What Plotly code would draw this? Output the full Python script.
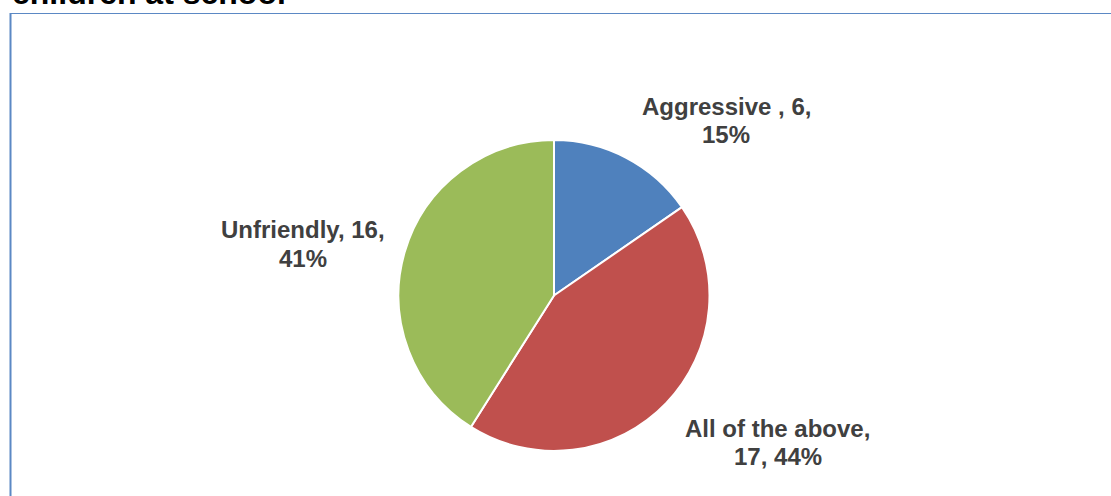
import plotly.graph_objects as go

# Survey responses: how the children are treated at school
categories = ["Aggressive ", "All of the above", "Unfriendly"]
counts = [6, 17, 16]
colors = ["#4F81BD", "#C0504D", "#9BBB59"]
title_text = "children at school"

W, H = 1111, 496


def px_x(x):
    return x / W


def px_y(y):
    return 1 - y / H


total = sum(counts)
pcts = [round(100 * c / total) for c in counts]

fig = go.Figure()
fig.add_trace(go.Pie(
    labels=categories,
    values=counts,
    sort=False,
    direction="clockwise",
    rotation=0,
    marker=dict(colors=colors, line=dict(color="white", width=2)),
    textinfo="none",
    hoverinfo="label+value+percent",
    showlegend=False,
    domain=dict(x=[px_x(398.5), px_x(709.5)], y=[px_y(451), px_y(140)]),
))

# Data label placement: centre x and the y of each of the two lines (pixels)
label_pos = [(726, 107, 134), (777.5, 428.5, 456.5), (302.5, 230, 258)]
break_after_name = [False, True, False]
label_font = dict(family="Liberation Sans, Arial, sans-serif", size=24, color="#404040")

for name, val, pct, (lx, y1, y2), brk in zip(categories, counts, pcts, label_pos, break_after_name):
    if brk:
        lines = [f"{name},", f"{val}, {pct}%"]
    else:
        lines = [f"{name}, {val},", f"{pct}%"]
    for txt, ly in zip(lines, (y1, y2)):
        fig.add_annotation(
            x=px_x(lx), y=px_y(ly), xref="paper", yref="paper",
            xanchor="center", yanchor="middle", showarrow=False,
            text=f"<b>{txt}</b>", font=label_font,
        )

# Chart title (partly above the visible area)
fig.add_annotation(
    x=px_x(10), y=1, xref="paper", yref="paper",
    xanchor="left", yanchor="bottom", yshift=-13, showarrow=False,
    text=f"<b>{title_text}</b>",
    font=dict(family="Liberation Sans, Arial, sans-serif", size=32, color="#000000"),
)

# Chart-area frame
frame_color = "#5B88C4"
fig.add_shape(type="line", xref="paper", yref="paper",
              x0=px_x(10), x1=1.0, y0=px_y(13.5), y1=px_y(13.5),
              line=dict(color=frame_color, width=1.2))
fig.add_shape(type="line", xref="paper", yref="paper",
              x0=px_x(10.5), x1=px_x(10.5), y0=px_y(13), y1=0,
              line=dict(color=frame_color, width=2))

fig.update_layout(
    width=W, height=H,
    margin=dict(l=0, r=0, t=0, b=0),
    paper_bgcolor="white",
    plot_bgcolor="white",
)

fig.write_html("out.html")
